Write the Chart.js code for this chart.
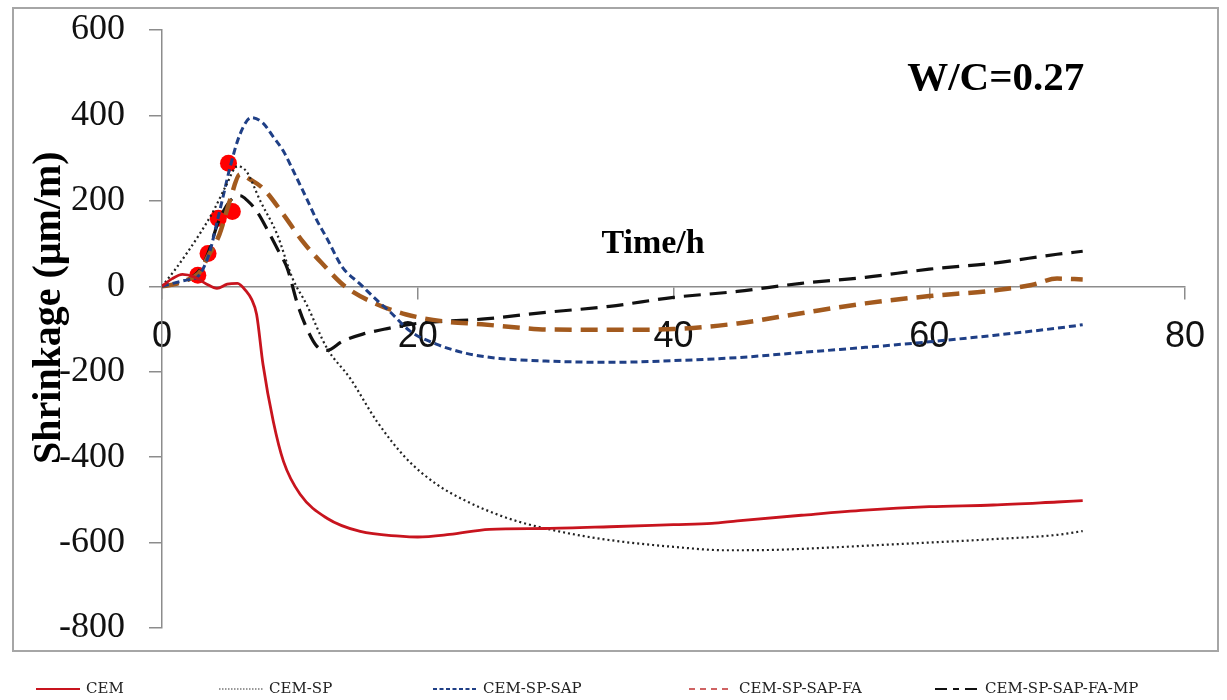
<!DOCTYPE html>
<html>
<head>
<meta charset="utf-8">
<script src="https://cdn.jsdelivr.net/npm/chart.js@4/dist/chart.umd.min.js"></script>
<style>
body{margin:0;background:#fff;}
#wrap{position:relative;width:1227px;height:700px;}
#frame{position:absolute;left:12px;top:7px;width:1203px;height:641px;border:2px solid #a6a6a6;}
#chartHTML{position:absolute;left:0;top:0;}
#legend{position:absolute;left:0;top:676px;width:1227px;height:24px;font-family:"DejaVu Serif",serif;font-size:15px;color:#222;}
#legend div{position:absolute;top:0;height:24px;line-height:24px;white-space:nowrap;}
#legend svg{vertical-align:middle;margin-right:6px;}
</style>
</head>
<body>
<div id="wrap">
<div id="frame"></div>
<canvas id="chartHTML" width="1227" height="700"></canvas>
<div id="legend"></div>
</div>
<script>
// CEM
const cemX=[0,0.8,1.6,2.5,3.5,4.3,5.1,5.9,6.6,7.0,7.4,7.9,8.7,9.5,10.8,12.9,15.5,18.6,20,22.5,25.6,30,35,40,43,45,50,55,60,65,70,72]
const cemY=[0,18,28,22,5,-5,5,7,-12,-30,-66,-183,-316,-410,-487,-543,-574,-585,-587,-581,-569,-567,-563,-558,-555,-549,-536,-524,-516,-512,-505,-502]
// CEM-SP
const spX=[0,1,2,3,4,5,5.9,6.6,7.7,9.0,10.2,11.3,12.9,14.7,16.8,19.1,21.5,23.8,26.2,28,30,33,36,40,44,48,52,56,60,65,70,72]
const spY=[0,38,80,125,175,235,281,269,199,122,19,-42,-145,-215,-316,-403,-464,-503,-534,-552,-567,-585,-598,-610,-618,-617,-612,-606,-600,-592,-582,-573]
// CEM-SP-SAP
const sapX=[0,1,2,2.7,3.2,3.75,4.3,4.7,5.3,6.1,7.0,7.9,8.7,9.5,10.4,11.3,12.1,12.9,14.1,15.5,17,17.8,19.4,21.5,23.8,26.4,30,35,40,45,50,55,60,65,70,72]
const sapY=[0,8,15,20,40,82,150,200,276,356,395,382,350,316,262,206,155,112,45,5,-38,-59,-105,-136,-157,-169,-175,-178,-174,-167,-155,-143,-130,-115,-98,-90]
// CEM-SP-SAP-FA
const faX=[0,1,2,3,3.6,4.5,5.3,6.1,6.9,7.9,9.5,11,12.6,14.3,16.8,19.1,22,25,28,30,35,40,45,50,55,60,65,68,70,72]
const faY=[0,5,15,35,70,122,200,262,250,229,168,105,51,0,-42,-66,-82,-89,-97,-101,-102,-100,-87,-63,-40,-23,-10,3,18,16]
// CEM-SP-SAP-FA-MP
const mpX=[0,1,2,3,3.6,4.4,5.3,6.1,6.7,7.4,8.3,9,9.8,10.6,11.2,12.1,12.9,14.1,15.7,17.8,19.4,22,25,30,35,40,45,50,55,60,65,70,72]
const mpY=[0,5,15,40,77,150,199,212,200,176,129,89,42,-42,-90,-140,-150,-129,-112,-98,-89,-82,-77,-61,-47,-26,-12,7,21,40,54,75,82]
// red markers
const dotX=[2.8,3.6,4.4,5.2,5.5]
const dotY=[26,77,159,288,175]

const xTicks=[0,20,40,60,80]
const seriesNames=['CEM','CEM-SP','CEM-SP-SAP','CEM-SP-SAP-FA','CEM-SP-SAP-FA-MP']

function pts(xs,ys){return xs.map((v,i)=>({x:v,y:ys[i]}))}

const axisGray='#8c8c8c'

const notesPlugin={
  id:'notes',
  afterDraw(chart){
    const {ctx,scales:{x,y}}=chart
    ctx.save()
    ctx.fillStyle='#000'
    ctx.textAlign='center'
    ctx.textBaseline='middle'
    ctx.font='bold 34px "Liberation Serif", serif'
    ctx.fillText('Time/h',x.getPixelForValue(38.4),y.getPixelForValue(98))
    ctx.font='bold 41px "Liberation Serif", serif'
    ctx.fillText('W/C=0.27',x.getPixelForValue(65.2),y.getPixelForValue(485))
    ctx.translate(50,y.getPixelForValue(-50))
    ctx.rotate(-Math.PI/2)
    ctx.font='bold 40px "Liberation Serif", serif'
    ctx.fillText('Shrinkage (\u03bcm/m)',0,0)
    ctx.restore()
  }
}

const lineBase={pointRadius:0,fill:false,cubicInterpolationMode:'monotone'}

const chartShrink=new Chart(document.getElementById('chartHTML'),{
  type:'line',
  data:{
    datasets:[
      {...lineBase,label:seriesNames[0],data:pts(cemX,cemY),borderColor:'#c8141e',borderWidth:2.8},
      {...lineBase,label:seriesNames[1],data:pts(spX,spY),borderColor:'#222',borderWidth:2.2,borderDash:[2,3]},
      {...lineBase,label:seriesNames[2],data:pts(sapX,sapY),borderColor:'#1f3f86',borderWidth:3,borderDash:[7,4]},
      {...lineBase,label:seriesNames[3],data:pts(faX,faY),borderColor:'#a35a1e',borderWidth:4.5,borderDash:[17,9]},
      {...lineBase,label:seriesNames[4],data:pts(mpX,mpY),borderColor:'#111',borderWidth:3.2,borderDash:[17,9]},
      {label:'points',data:pts(dotX,dotY),showLine:false,pointRadius:8.5,pointBackgroundColor:'#ff0000',pointBorderColor:'#ff0000',pointBorderWidth:0}
    ]
  },
  options:{
    responsive:false,
    animation:false,
    layout:{padding:{left:0,top:30,right:42,bottom:72}},
    plugins:{legend:{display:false},tooltip:{enabled:false}},
    scales:{
      x:{
        type:'linear',min:0,max:80,
        position:{y:0},
        afterBuildTicks(s){s.ticks=xTicks.map(v=>({value:v}))},
        grid:{drawOnChartArea:false,drawTicks:true,tickLength:12,color:axisGray,lineWidth:1.5},
        border:{color:axisGray,width:1.5},
        ticks:{color:'#111',padding:17,maxRotation:0,font:{family:'"Liberation Sans", sans-serif',size:36}}
      },
      y:{
        min:-800,max:600,
        afterFit(s){s.width=162;s.paddingTop=10;s.paddingBottom=10},
        grid:{drawOnChartArea:false,drawTicks:true,tickLength:13,color:axisGray,lineWidth:1.5},
        border:{color:axisGray,width:1.5},
        ticks:{stepSize:200,color:'#111',padding:24,font:{family:'"Liberation Serif", serif',size:36}}
      }
    }
  },
  plugins:[notesPlugin]
})

// legend below the frame
const legendItems=[
  {name:seriesNames[0],left:36,color:'#c8141e',dash:'',w:2},
  {name:seriesNames[1],left:219,color:'#777',dash:'1.5,1.5',w:1.5},
  {name:seriesNames[2],left:433,color:'#1f3f86',dash:'4,2.5',w:1.8},
  {name:seriesNames[3],left:689,color:'#c03030',dash:'6,5',w:1.5},
  {name:seriesNames[4],left:935,color:'#111',dash:'12,6,6,6',w:1.8}
]
const lg=document.getElementById('legend')
legendItems.forEach(it=>{
  const d=document.createElement('div')
  d.style.left=it.left+'px'
  d.innerHTML=`<svg width="44" height="6"><line x1="0" y1="3" x2="44" y2="3" stroke="${it.color}" stroke-width="${it.w}" ${it.dash?`stroke-dasharray="${it.dash}"`:''}/></svg>${it.name}`
  lg.appendChild(d)
})
</script>
</body>
</html>
